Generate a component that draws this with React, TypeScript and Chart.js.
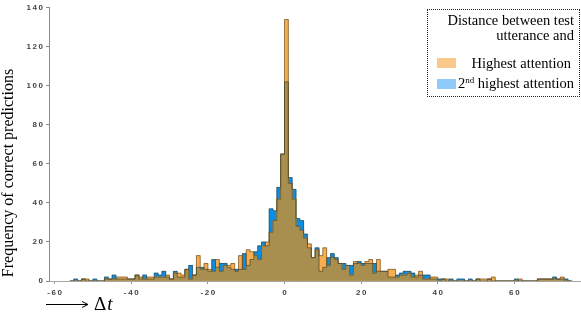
import React, { useEffect, useRef } from "react";
import { Chart, registerables } from "chart.js";

Chart.register(...registerables);

// Δt bins (left edge of each 1-wide bin)
const bins = [
  -56, -55, -54, -53, -52, -51, -50, -49, -48, -47,
  -46, -45, -44, -43, -42, -41, -40, -39, -38, -37,
  -36, -35, -34, -33, -32, -31, -30, -29, -28, -27,
  -26, -25, -24, -23, -22, -21, -20, -19, -18, -17,
  -16, -15, -14, -13, -12, -11, -10, -9, -8, -7,
  -6, -5, -4, -3, -2, -1, 0, 1, 2, 3,
  4, 5, 6, 7, 8, 9, 10, 11, 12, 13,
  14, 15, 16, 17, 18, 19, 20, 21, 22, 23,
  24, 25, 26, 27, 28, 29, 30, 31, 32, 33,
  34, 35, 36, 37, 38, 39, 40, 41, 42, 43,
  44, 45, 46, 47, 48, 49, 50, 51, 52, 53,
  54, 55, 56, 57, 58, 59, 60, 61, 62, 63,
  64, 65, 66, 67, 68, 69, 70, 71, 72, 73,
  74,
];

const highestAttention = [
  0, 0, 0, 1, 1, 0, 0, 0, 0, 1,
  1, 1, 2, 2, 2, 1, 1, 3, 2, 1,
  2, 2, 2, 2, 2, 3, 1, 4, 4, 3,
  6, 1, 3, 13, 6, 9, 6, 5, 11, 5,
  8, 8, 9, 5, 13, 6, 16, 15, 13, 11,
  18, 20, 25, 31, 42, 65, 134, 50, 42, 28,
  26, 22, 19, 12, 16, 13, 17, 8, 12, 11,
  9, 6, 8, 3, 10, 9, 8, 10, 11, 4,
  11, 5, 5, 6, 6, 2, 3, 3, 4, 2,
  3, 5, 1, 1, 2, 2, 0, 1, 1, 0,
  0, 0, 0, 0, 0, 0, 1, 1, 1, 1,
  2, 0, 0, 0, 0, 0, 0, 1, 0, 0,
  0, 0, 1, 1, 1, 1, 1, 1, 2, 0,
  0,
];

const secondHighestAttention = [
  0, 1, 0, 1, 0, 0, 1, 0, 0, 2,
  1, 3, 1, 1, 1, 1, 1, 3, 1, 3,
  1, 1, 4, 3, 5, 2, 1, 5, 2, 2,
  6, 8, 3, 7, 7, 6, 5, 11, 7, 9,
  9, 7, 6, 6, 6, 14, 8, 11, 15, 18,
  20, 18, 37, 36, 48, 65, 102, 53, 47, 32,
  31, 24, 17, 12, 17, 5, 7, 12, 14, 12,
  9, 9, 8, 8, 9, 10, 9, 9, 9, 9,
  5, 5, 5, 2, 2, 3, 4, 5, 5, 4,
  2, 3, 3, 3, 1, 1, 1, 1, 0, 1,
  0, 1, 1, 0, 1, 0, 1, 0, 0, 1,
  0, 0, 0, 0, 0, 0, 1, 0, 0, 0,
  0, 0, 1, 1, 1, 1, 2, 1, 1, 1,
  0,
];

const xTickValues = [-60, -40, -20, 0, 20, 40, 60];
const yTickValues = [0, 20, 40, 60, 80, 100, 120, 140];
const yTitle = "Frequency of correct predictions";
const legendTitle = ["Distance between test", "utterance and"];
const seriesNames = ["Highest attention", "highest attention"];

const ORANGE = "#f7ae4f";
const BLUE = "#0b8de2";
const OLIVE = "#a88f4f";
const OUTLINE = "rgba(70,60,35,0.55)";

const spaced = (s: string) => s.split("").join("\u2009");

const barPoints = (vals: number[]) => bins.map((b, i) => ({ x: b + 0.5, y: vals[i] }));
const stepPoints = (vals: number[]) => {
  const pts = bins.map((b, i) => ({ x: b, y: vals[i] }));
  pts.push({ x: bins[bins.length - 1] + 1, y: 0 });
  return pts;
};

const decor = {
  id: "decor",
  afterDraw(chart: any) {
    const ctx = chart.ctx as CanvasRenderingContext2D;
    ctx.save();
    ctx.fillStyle = "#000";
    ctx.font = '16px "Liberation Serif"';
    ctx.translate(13, 173);
    ctx.rotate(-Math.PI / 2);
    ctx.textAlign = "center";
    ctx.textBaseline = "alphabetic";
    ctx.fillText(yTitle, 0, 0);
    ctx.restore();

    ctx.save();
    ctx.strokeStyle = "#000";
    ctx.fillStyle = "#000";
    ctx.lineWidth = 1;
    ctx.beginPath();
    ctx.moveTo(46, 304.5);
    ctx.lineTo(87, 304.5);
    ctx.stroke();
    ctx.beginPath();
    ctx.moveTo(82, 301.5);
    ctx.lineTo(88, 304.5);
    ctx.lineTo(82, 307.5);
    ctx.stroke();
    ctx.font = '19px "Liberation Serif"';
    ctx.textBaseline = "alphabetic";
    ctx.fillText("\u0394", 94, 310);
    const w = ctx.measureText("\u0394").width;
    ctx.font = 'italic 19px "Liberation Serif"';
    ctx.fillText("t", 94 + w + 1, 310);
    ctx.restore();
  },
};

export default function App() {
  const ref = useRef<HTMLCanvasElement | null>(null);

  useEffect(() => {
    if (!ref.current) return;
    const overlap = highestAttention.map((v, i) => Math.min(v, secondHighestAttention[i]));
    const tickFont = { family: '"Liberation Sans"', size: 8, weight: "bold" as const };
    const barCommon = {
      type: "bar",
      borderWidth: 0,
      grouped: false,
      barPercentage: 1,
      categoryPercentage: 1,
    };
    const chart = new Chart(ref.current, {
      type: "bar",
      data: {
        datasets: [
          {
            ...barCommon,
            label: "2nd highest attention",
            data: barPoints(secondHighestAttention),
            backgroundColor: BLUE,
            order: 5,
          },
          {
            ...barCommon,
            label: "Highest attention",
            data: barPoints(highestAttention),
            backgroundColor: ORANGE,
            order: 4,
          },
          {
            ...barCommon,
            label: "overlap",
            data: barPoints(overlap),
            backgroundColor: OLIVE,
            order: 3,
          },
          {
            type: "line",
            label: "outline2",
            data: stepPoints(secondHighestAttention),
            stepped: "before",
            borderColor: OUTLINE,
            borderWidth: 1,
            pointRadius: 0,
            fill: false,
            order: 2,
          },
          {
            type: "line",
            label: "outline1",
            data: stepPoints(highestAttention),
            stepped: "before",
            borderColor: OUTLINE,
            borderWidth: 1,
            pointRadius: 0,
            fill: false,
            order: 1,
          },
        ] as any,
      },
      options: {
        animation: false,
        responsive: false,
        devicePixelRatio: 1,
        layout: { padding: { left: 0, top: 5, right: 1, bottom: 0 } },
        plugins: {
          legend: { display: false },
          tooltip: { enabled: false },
        },
        scales: {
          x: {
            type: "linear",
            min: -61.47,
            max: 77.13,
            offset: false,
            grid: {
              offset: false,
              drawOnChartArea: false,
              drawTicks: true,
              tickLength: 3,
              color: "#9a9a9a",
            },
            border: { color: "#a5a5a5", width: 1 },
            ticks: {
              font: tickFont,
              color: "#444",
              padding: 4,
              maxRotation: 0,
              callback: (v: any) => spaced(String(v)),
            },
            afterBuildTicks: (scale: any) => {
              scale.ticks = xTickValues.map((v) => ({ value: v }));
            },
            afterFit: (scale: any) => {
              scale.height = 31;
            },
          },
          y: {
            type: "linear",
            min: 0,
            max: 140,
            grid: {
              drawOnChartArea: false,
              drawTicks: true,
              tickLength: 3,
              color: "#8a8a8a",
            },
            border: { color: "#8a8a8a", width: 1 },
            ticks: {
              font: tickFont,
              color: "#444",
              padding: 3,
              callback: (v: any) => spaced(String(v)),
            },
            afterBuildTicks: (scale: any) => {
              scale.ticks = yTickValues.map((v) => ({ value: v }));
            },
            afterFit: (scale: any) => {
              scale.width = 49;
            },
          },
        },
      },
      plugins: [decor],
    });
    return () => chart.destroy();
  }, []);

  const serif = '"Liberation Serif", "Times New Roman", serif';
  return (
    <div style={{ position: "absolute", left: 0, top: 0, width: 581, height: 312, background: "#fff" }}>
      <canvas ref={ref} width={581} height={312} style={{ position: "absolute", left: 0, top: 0, width: 581, height: 312 }} />
      <div
        style={{
          position: "absolute",
          left: 427,
          top: 9,
          width: 153,
          height: 88,
          boxSizing: "border-box",
          border: "1px dotted #222",
          fontFamily: serif,
          fontSize: 14.5,
          color: "#000",
        }}
      >
        <div style={{ position: "absolute", right: 5, top: 3, lineHeight: "15px", textAlign: "right", whiteSpace: "nowrap" }}>
          {legendTitle[0]}
          <br />
          {legendTitle[1]}
        </div>
        <div style={{ position: "absolute", left: 9, top: 48, width: 19, height: 10, background: "#fbc88b" }} />
        <div style={{ position: "absolute", right: 8, top: 45, lineHeight: "16px", whiteSpace: "nowrap" }}>{seriesNames[0]}</div>
        <div style={{ position: "absolute", left: 9, top: 69, width: 19, height: 10, background: "#8ecbf8" }} />
        <div style={{ position: "absolute", right: 5, top: 65, lineHeight: "16px", whiteSpace: "nowrap" }}>
          2<sup style={{ fontSize: 9, verticalAlign: "top", lineHeight: "9px", position: "relative", top: 1 }}>nd</sup> {seriesNames[1]}
        </div>
      </div>
    </div>
  );
}
